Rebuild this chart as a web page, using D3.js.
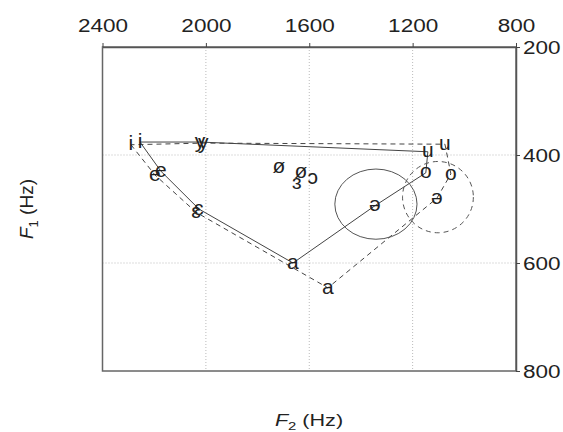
<!DOCTYPE html>
<html>
<head>
<meta charset="utf-8">
<script src="https://cdn.jsdelivr.net/npm/d3@7"></script>
<style>
  body { margin: 0; background: #fff; }
  text { font-family: "Liberation Sans", Arial, sans-serif; fill: #222; }
</style>
</head>
<body>
<svg id="chart" width="563" height="432"></svg>
<script>
// vowel data, F2 / F1 in Hz
const solidVowels = ["i", "e", "ɛ", "a", "ə", "o", "u", "y", "i"];
const solidF2 = [2255, 2174, 2027, 1663, 1346, 1149, 1141, 2023, 2255];
const solidF1 = [376, 430, 500, 600, 494, 433, 394, 376, 376];

const dashedVowels = ["i", "e", "ɛ", "a", "ə", "o", "u", "y", "i"];
const dashedF2 = [2290, 2197, 2038, 1528, 1106, 1052, 1075, 2010, 2290];
const dashedF1 = [381, 437, 506, 646, 480, 435, 380, 378, 381];

const otherVowels = ["ø", "ø", "ɔ", "ɜ"];
const otherF2 = [1717, 1632, 1586, 1648];
const otherF1 = [422, 432, 443, 452];

// schwa ellipses: centre and radii in Hz
const ellipseCx = [1342, 1102];
const ellipseCy = [491, 478];
const ellipseRx = [159, 137];
const ellipseRy = [65, 66];
const ellipseDash = [null, "5,4"];

const f2Ticks = [2400, 2000, 1600, 1200, 800];
const f1Ticks = [200, 400, 600, 800];
const f2Grid = [2000, 1600, 1200];
const f1Grid = [400, 600];

const svg = d3.select("#chart");
const x = d3.scaleLinear().domain([2400, 800]).range([102.5, 516]);
const y = d3.scaleLinear().domain([200, 800]).range([47, 371]);

// grid
const grid = svg.append("g")
    .attr("stroke", "#bbb")
    .attr("stroke-width", 1)
    .attr("stroke-dasharray", "1,2");
grid.selectAll("line.v").data(f2Grid).join("line").attr("class", "v")
    .attr("x1", d => x(d)).attr("x2", d => x(d))
    .attr("y1", y(200)).attr("y2", y(800));
grid.selectAll("line.h").data(f1Grid).join("line").attr("class", "h")
    .attr("x1", x(2400)).attr("x2", x(800))
    .attr("y1", d => y(d)).attr("y2", d => y(d));

// frame
svg.append("rect")
    .attr("x", x(2400)).attr("y", y(200))
    .attr("width", x(800) - x(2400)).attr("height", y(800) - y(200))
    .attr("fill", "none").attr("stroke", "#666").attr("stroke-width", 1.5);

// axes (tick text is a bit wider than the font, hence the x scale)
const topAxis = svg.append("g")
    .attr("transform", `translate(0,${y(200)})`)
    .call(d3.axisTop(x).tickValues(f2Ticks).tickFormat(d3.format("d"))
        .tickSize(4).tickPadding(11).tickSizeOuter(0));
const rightAxis = svg.append("g")
    .attr("transform", `translate(${x(800)},0)`)
    .call(d3.axisRight(y).tickValues(f1Ticks).tickFormat(d3.format("d"))
        .tickSize(4).tickPadding(1.6).tickSizeOuter(0));
[topAxis, rightAxis].forEach(a => {
    a.select(".domain").attr("stroke", "#555").attr("stroke-width", 1.5);
    a.selectAll(".tick line").attr("stroke", "#444");
    a.selectAll(".tick text")
        .style("font-family", "Liberation Sans, Arial, sans-serif")
        .style("font-size", "18px").attr("fill", "#222")
        .attr("transform", "scale(1.25,1)");
});
rightAxis.selectAll(".tick text").attr("dy", "0.36em");

// polygons
const line = d3.line().x(d => x(d[0])).y(d => y(d[1]));
svg.append("path")
    .attr("d", line(d3.zip(solidF2, solidF1)))
    .attr("fill", "none").attr("stroke", "#444").attr("stroke-width", 1);
svg.append("path")
    .attr("d", line(d3.zip(dashedF2, dashedF1)))
    .attr("fill", "none").attr("stroke", "#444").attr("stroke-width", 1)
    .attr("stroke-dasharray", "5,4");

// ellipses
svg.selectAll("ellipse").data(ellipseCx).join("ellipse")
    .attr("cx", d => x(d))
    .attr("cy", (d, i) => y(ellipseCy[i]))
    .attr("rx", (d, i) => Math.abs(x(d - ellipseRx[i]) - x(d)))
    .attr("ry", (d, i) => y(ellipseCy[i] + ellipseRy[i]) - y(ellipseCy[i]))
    .attr("fill", "none").attr("stroke", "#555").attr("stroke-width", 1)
    .attr("stroke-dasharray", (d, i) => ellipseDash[i]);

// vowel symbols
const labels = []
    .concat(solidVowels.slice(0, -1).map((v, i) => [v, solidF2[i], solidF1[i]]))
    .concat(dashedVowels.slice(0, -1).map((v, i) => [v, dashedF2[i], dashedF1[i]]))
    .concat(otherVowels.map((v, i) => [v, otherF2[i], otherF1[i]]));
svg.append("g").selectAll("text").data(labels).join("text")
    .attr("x", d => x(d[1]))
    .attr("y", d => y(d[2]))
    .attr("text-anchor", "middle")
    .attr("dy", "0.27em")
    .style("font-size", "21px")
    .text(d => d[0]);

// axis titles
svg.append("text")
    .attr("transform", "translate(309,426) scale(1.35,1)")
    .attr("text-anchor", "middle")
    .style("font-size", "16px")
    .html('<tspan font-style="italic">F</tspan><tspan dy="4" font-size="11px">2</tspan><tspan dy="-4"> (Hz)</tspan>');
svg.append("text")
    .attr("transform", "translate(33,209) rotate(-90)")
    .attr("text-anchor", "middle")
    .style("font-size", "19px")
    .html('<tspan font-style="italic">F</tspan><tspan dy="5" font-size="13px">1</tspan><tspan dy="-5"> (Hz)</tspan>');
</script>
</body>
</html>
